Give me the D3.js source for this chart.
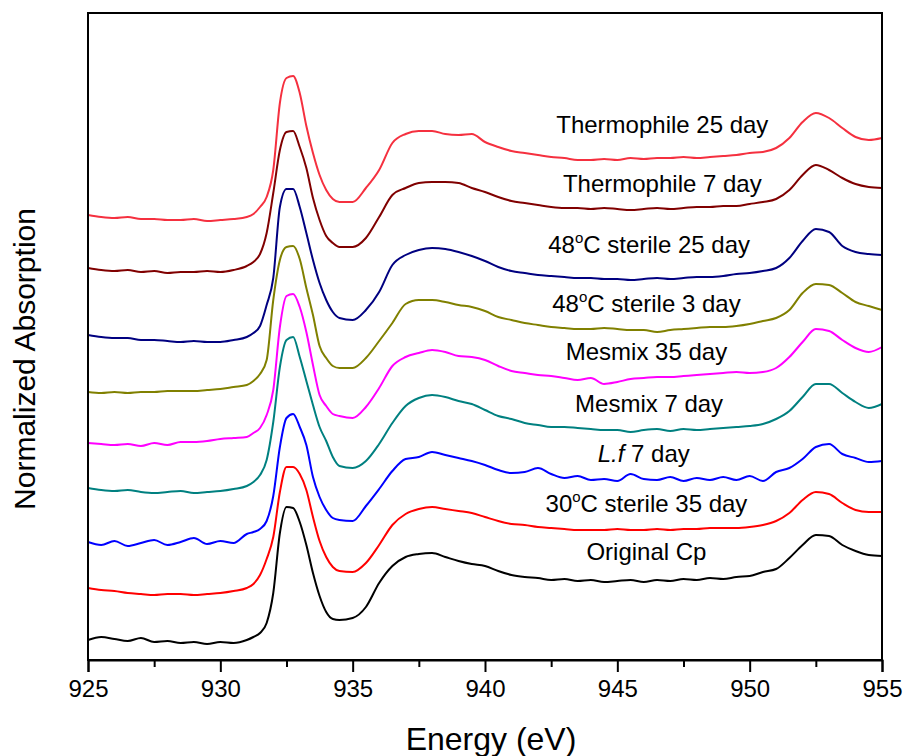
<!DOCTYPE html>
<html>
<head>
<meta charset="utf-8">
<script src="https://cdn.jsdelivr.net/npm/d3@7"></script>
<style>
  body { margin: 0; background: #fff; }
  text { font-family: Arial, "Liberation Sans", sans-serif; fill: #000; }
</style>
</head>
<body>
<svg id="chart" width="904" height="756"></svg>
<script>
// photon energy grid (eV)
const energies = [925, 925.5, 926, 926.5, 927, 927.5, 928, 928.5, 929, 929.5, 930, 930.5, 931,
  931.25, 931.5, 931.75, 932, 932.25, 932.5, 932.75, 933, 933.25, 933.5, 933.75, 934, 934.25, 934.5,
  935, 935.5, 936, 936.5, 937, 937.5, 938, 938.5, 939, 939.5, 940, 940.5, 941, 941.5, 942, 942.5,
  943, 943.5, 944, 944.5, 945, 945.5, 946, 946.5, 947, 947.5, 948, 948.5, 949, 949.5, 950, 950.5,
  951, 951.5, 952, 952.5, 953, 953.5, 954, 954.5, 955];

// stacked normalized absorption, bottom to top
const originalCp = [0.20, 0.23, 0.21, 0.19, 0.22, 0.18, 0.19, 0.17, 0.18, 0.16, 0.18, 0.17, 0.20,
  0.23, 0.27, 0.37, 0.67, 1.27, 1.53, 1.52, 1.38, 1.15, 0.87, 0.64, 0.48, 0.41, 0.40,
  0.42, 0.53, 0.77, 0.94, 1.03, 1.06, 1.07, 1.03, 0.99, 0.96, 0.94, 0.89, 0.85, 0.83, 0.82, 0.80,
  0.81, 0.79, 0.80, 0.78, 0.79, 0.80, 0.78, 0.80, 0.79, 0.81, 0.80, 0.82, 0.81, 0.83, 0.84, 0.88,
  0.91, 1.02, 1.15, 1.25, 1.24, 1.15, 1.09, 1.05, 1.04];
const sterile30d35 = [0.72, 0.70, 0.69, 0.67, 0.66, 0.65, 0.66, 0.66, 0.65, 0.66, 0.67, 0.69, 0.72,
  0.76, 0.85, 1.01, 1.23, 1.68, 1.93, 1.93, 1.86, 1.70, 1.43, 1.19, 1.03, 0.93, 0.89,
  0.88, 0.97, 1.15, 1.35, 1.46, 1.51, 1.53, 1.51, 1.49, 1.47, 1.43, 1.39, 1.36, 1.35, 1.33, 1.32,
  1.31, 1.30, 1.30, 1.30, 1.31, 1.30, 1.30, 1.31, 1.30, 1.31, 1.31, 1.32, 1.32, 1.32, 1.33, 1.35,
  1.39, 1.47, 1.60, 1.68, 1.66, 1.57, 1.50, 1.48, 1.48];
const lfD7 = [1.18, 1.15, 1.19, 1.14, 1.17, 1.20, 1.15, 1.18, 1.22, 1.16, 1.19, 1.17, 1.26,
  1.28, 1.31, 1.39, 1.64, 2.13, 2.42, 2.46, 2.33, 2.15, 1.83, 1.63, 1.50, 1.42, 1.40,
  1.39, 1.54, 1.71, 1.89, 2.01, 2.03, 2.08, 2.05, 2.02, 1.99, 1.95, 1.90, 1.87, 1.88, 1.92, 1.86,
  1.82, 1.84, 1.80, 1.81, 1.79, 1.86, 1.81, 1.80, 1.83, 1.79, 1.82, 1.80, 1.83, 1.80, 1.84, 1.79,
  1.88, 1.92, 2.01, 2.13, 2.16, 2.06, 2.02, 1.98, 1.99];
const mesmixD7 = [1.72, 1.70, 1.69, 1.70, 1.68, 1.67, 1.68, 1.69, 1.67, 1.68, 1.69, 1.71, 1.74,
  1.78, 1.85, 2.00, 2.38, 2.93, 3.20, 3.23, 3.03, 2.79, 2.55, 2.33, 2.19, 2.03, 1.94,
  1.92, 1.99, 2.16, 2.37, 2.54, 2.62, 2.65, 2.63, 2.59, 2.56, 2.50, 2.44, 2.41, 2.37, 2.35, 2.33,
  2.33, 2.32, 2.31, 2.30, 2.30, 2.28, 2.30, 2.31, 2.29, 2.31, 2.30, 2.31, 2.32, 2.33, 2.34, 2.36,
  2.41, 2.49, 2.63, 2.76, 2.76, 2.67, 2.58, 2.52, 2.56];
const mesmixD35 = [2.17, 2.16, 2.15, 2.16, 2.14, 2.17, 2.15, 2.18, 2.18, 2.19, 2.21, 2.22, 2.23,
  2.27, 2.32, 2.45, 2.70, 3.33, 3.64, 3.66, 3.53, 3.28, 2.95, 2.65, 2.54, 2.46, 2.44,
  2.42, 2.53, 2.72, 2.94, 3.03, 3.07, 3.10, 3.08, 3.04, 3.03, 3.00, 2.94, 2.89, 2.87, 2.85, 2.84,
  2.82, 2.80, 2.82, 2.76, 2.78, 2.81, 2.82, 2.83, 2.83, 2.84, 2.85, 2.86, 2.87, 2.88, 2.87, 2.88,
  2.92, 3.03, 3.18, 3.31, 3.29, 3.20, 3.12, 3.08, 3.13];
const sterile48d3 = [2.68, 2.67, 2.68, 2.67, 2.68, 2.68, 2.69, 2.69, 2.69, 2.70, 2.71, 2.73, 2.75,
  2.79, 2.86, 3.00, 3.60, 4.00, 4.13, 4.14, 4.01, 3.72, 3.45, 3.14, 3.02, 2.94, 2.92,
  2.92, 3.02, 3.19, 3.37, 3.56, 3.60, 3.60, 3.58, 3.55, 3.53, 3.49, 3.43, 3.40, 3.37, 3.35, 3.33,
  3.32, 3.31, 3.31, 3.32, 3.31, 3.30, 3.30, 3.28, 3.30, 3.31, 3.32, 3.33, 3.33, 3.34, 3.36, 3.39,
  3.42, 3.50, 3.67, 3.76, 3.75, 3.67, 3.58, 3.54, 3.50];
const sterile48d25 = [3.25, 3.23, 3.22, 3.22, 3.20, 3.20, 3.19, 3.18, 3.19, 3.18, 3.18, 3.20, 3.23,
  3.27, 3.34, 3.55, 3.82, 4.53, 4.71, 4.71, 4.53, 4.27, 4.00, 3.77, 3.60, 3.48, 3.42,
  3.40, 3.50, 3.68, 3.95, 4.05, 4.10, 4.12, 4.11, 4.08, 4.04, 3.99, 3.93, 3.89, 3.87, 3.85, 3.84,
  3.83, 3.82, 3.82, 3.81, 3.81, 3.80, 3.81, 3.82, 3.81, 3.82, 3.83, 3.83, 3.84, 3.86, 3.87, 3.89,
  3.92, 4.02, 4.19, 4.31, 4.28, 4.14, 4.08, 4.06, 4.05];
const thermoD7 = [3.92, 3.90, 3.89, 3.90, 3.88, 3.89, 3.87, 3.88, 3.88, 3.89, 3.88, 3.90, 3.94,
  3.98, 4.06, 4.27, 4.67, 5.10, 5.28, 5.29, 5.13, 4.92, 4.62, 4.40, 4.24, 4.17, 4.13,
  4.13, 4.22, 4.43, 4.65, 4.72, 4.77, 4.78, 4.78, 4.77, 4.72, 4.68, 4.63, 4.59, 4.57, 4.55, 4.53,
  4.52, 4.52, 4.51, 4.52, 4.51, 4.50, 4.51, 4.52, 4.51, 4.52, 4.53, 4.53, 4.54, 4.54, 4.56, 4.58,
  4.61, 4.70, 4.85, 4.95, 4.90, 4.82, 4.76, 4.73, 4.72];
const thermoD25 = [4.45, 4.43, 4.42, 4.43, 4.41, 4.41, 4.40, 4.40, 4.41, 4.39, 4.40, 4.41, 4.43,
  4.46, 4.53, 4.63, 4.90, 5.57, 5.82, 5.84, 5.67, 5.34, 5.07, 4.85, 4.70, 4.61, 4.58,
  4.58, 4.72, 4.90, 5.17, 5.26, 5.29, 5.29, 5.26, 5.25, 5.26, 5.18, 5.13, 5.09, 5.07, 5.05, 5.03,
  5.02, 5.00, 5.00, 5.01, 5.00, 5.02, 5.01, 5.02, 5.02, 5.03, 5.02, 5.03, 5.04, 5.05, 5.07, 5.08,
  5.12, 5.22, 5.38, 5.47, 5.42, 5.32, 5.23, 5.20, 5.22];

const seriesValues = [originalCp, sterile30d35, lfD7, mesmixD7, mesmixD35,
  sterile48d3, sterile48d25, thermoD7, thermoD25];
const seriesColors = ["#000000", "#ff0000", "#0000ff", "#008080", "#ff00ff",
  "#808000", "#000080", "#800000", "#f5303f"];

// curve labels: text parts, placed with an energy / value anchor
const labelParts = [
  [{ t: "Original Cp" }],
  [{ t: "30" }, { t: "o", sup: true }, { t: "C sterile 35 day" }],
  [{ t: "L.f", it: true }, { t: " 7 day" }],
  [{ t: "Mesmix 7 day" }],
  [{ t: "Mesmix 35 day" }],
  [{ t: "48" }, { t: "o", sup: true }, { t: "C sterile 3 day" }],
  [{ t: "48" }, { t: "o", sup: true }, { t: "C sterile 25 day" }],
  [{ t: "Thermophile 7 day" }],
  [{ t: "Thermophile 25 day" }]
];
const labelEnergy = [946.1, 946.1, 946.0, 946.2, 946.1, 946.1, 946.2, 946.7, 946.7];
const labelValue = [1.00, 1.48, 1.98, 2.48, 3.00, 3.48, 4.07, 4.68, 5.27];

const xTicks = [925, 930, 935, 940, 945, 950, 955];
const xMinorTicks = [927.5, 932.5, 937.5, 942.5, 947.5, 952.5];

const margin = { top: 13, right: 22, bottom: 96, left: 88 };
const width = 904, height = 756;
const svg = d3.select("#chart");

const x = d3.scaleLinear().domain([925, 955]).range([margin.left, width - margin.right]);
const y = d3.scaleLinear().domain([0, 6.47]).range([height - margin.bottom, margin.top]);

svg.append("rect").attr("width", width).attr("height", height).attr("fill", "#fff");

const line = d3.line()
  .x((d, i) => x(energies[i]))
  .y(d => y(d))
  .curve(d3.curveMonotoneX);

svg.append("g")
  .selectAll("path")
  .data(seriesValues)
  .join("path")
  .attr("d", line)
  .attr("fill", "none")
  .attr("stroke", (d, i) => seriesColors[i])
  .attr("stroke-width", 2)
  .attr("stroke-linejoin", "round");

// frame
svg.append("rect")
  .attr("x", x(925)).attr("y", y(6.47))
  .attr("width", x(955) - x(925)).attr("height", y(0) - y(6.47))
  .attr("fill", "none").attr("stroke", "#000").attr("stroke-width", 2);

// bottom axis
const xAxis = svg.append("g")
  .attr("transform", `translate(0,${y(0)})`)
  .call(d3.axisBottom(x).tickValues(xTicks).tickFormat(d3.format("d")).tickSize(12).tickPadding(8));
xAxis.select(".domain").attr("stroke-width", 2);
xAxis.selectAll(".tick line").attr("stroke-width", 2);
xAxis.selectAll(".tick text").style("font-size", "24px").attr("font-family", null);

const xMinor = svg.append("g")
  .attr("transform", `translate(0,${y(0)})`)
  .call(d3.axisBottom(x).tickValues(xMinorTicks).tickFormat("").tickSize(7));
xMinor.select(".domain").remove();
xMinor.selectAll(".tick line").attr("stroke-width", 2);

// axis titles
svg.append("text")
  .attr("x", 491).attr("y", 750)
  .attr("text-anchor", "middle").style("font-size", "32px")
  .text("Energy (eV)");

svg.append("text")
  .attr("transform", "translate(35,359) rotate(-90)")
  .attr("text-anchor", "middle").style("font-size", "30px")
  .text("Normalized Absorption");

// curve labels
const labels = svg.append("g").selectAll("text")
  .data(labelParts)
  .join("text")
  .attr("x", (d, i) => x(labelEnergy[i]))
  .attr("y", (d, i) => y(labelValue[i]))
  .attr("text-anchor", "middle")
  .style("font-size", "24px");

labels.each(function (parts) {
  const t = d3.select(this);
  parts.forEach((p, j) => {
    const prevSup = j > 0 && parts[j - 1].sup;
    const span = t.append("tspan").text(p.t);
    if (p.sup) span.attr("dy", -10).style("font-size", "15px");
    if (prevSup) span.attr("dy", 10);
    if (p.it) span.style("font-style", "italic");
  });
});
</script>
</body>
</html>
